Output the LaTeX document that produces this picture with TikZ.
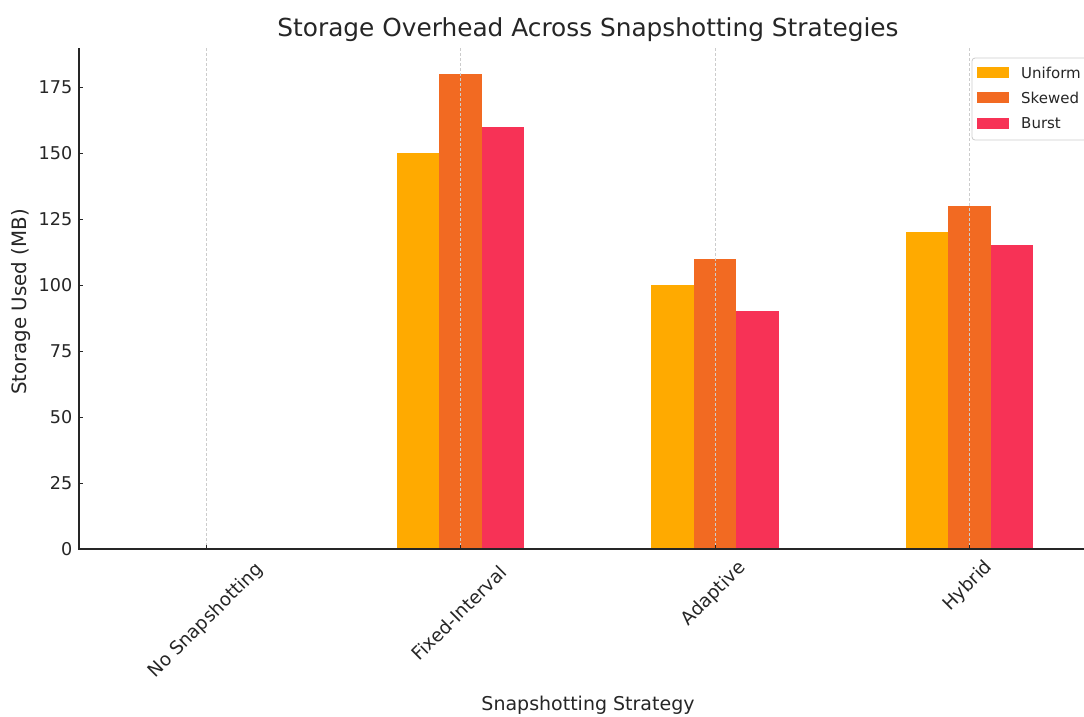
\documentclass[tikz,border=0pt]{standalone}
\usepackage{fontspec}
\setmainfont{DejaVu Sans}
\definecolor{cuni}{RGB}{255,170,0}
\definecolor{cske}{RGB}{242,106,34}
\definecolor{cbur}{RGB}{247,50,86}
\definecolor{txt}{RGB}{38,38,38}
\tikzset{
  gridline/.style={draw=black!20, dashed, dash pattern=on 3pt off 2pt, line width=0.8pt},
  axisline/.style={draw=txt, line width=1.1pt},
  ticklbl/.style={text=txt, font=\fontsize{17.6}{20}\selectfont, inner sep=0pt},
  xlbl/.style={text=txt, font=\fontsize{18.4}{21}\selectfont, inner sep=0pt, rotate=45},
  axlbl/.style={text=txt, font=\fontsize{19}{22}\selectfont, inner sep=0pt},
  leglbl/.style={text=txt, font=\fontsize{15}{18}\selectfont, inner sep=0pt, anchor=west},
  uni/.style={fill=cuni},
  ske/.style={fill=cske},
  bur/.style={fill=cbur},
}
\begin{document}
\begin{tikzpicture}[x=1pt,y=-1pt]
\clip (0,0) rectangle (1084,716);
\fill[white] (0,0) rectangle (1084,716);
% bars
\foreach \i/\u/\s/\b in {1/150/180/160, 2/100/110/90, 3/120/130/115} {
  \pgfmathsetmacro\cx{206+254.5*\i}
  \fill[uni] ({\cx-63.6},549) rectangle ({\cx-21.2},{549-\u*2.64});
  \fill[ske] ({\cx-21.2},549) rectangle ({\cx+21.2},{549-\s*2.64});
  \fill[bur] ({\cx+21.2},549) rectangle ({\cx+63.6},{549-\b*2.64});
}
% grid
\foreach \c in {206,460.5,715,969.5} {
  \draw[gridline] (\c,48) -- (\c,549);
  \draw[axisline, line width=0.9pt] (\c,549) -- (\c,545);
}
% axes
\draw[axisline] (79,48) -- (79,549) -- (1090,549);
% y ticks
\foreach \v in {0,25,...,175} {
  \pgfmathsetmacro\yy{549-\v*2.64}
  \draw[axisline, line width=0.9pt] (79,\yy) -- (83,\yy);
  \node[ticklbl, anchor=east] (yt\v) at (72.5,\yy) {\v};
}
% x tick labels
\node[xlbl] (xt1) at (206,621) {No Snapshotting};
\node[xlbl] (xt2) at (459,613) {Fixed-Interval};
\node[xlbl] (xt3) at (714,594) {Adaptive};
\node[xlbl] (xt4) at (968,586) {Hybrid};
% labels
\node[text=txt, font=\fontsize{24.8}{28}\selectfont, inner sep=0pt] (title) at (588,30) {Storage Overhead Across Snapshotting Strategies};
\node[axlbl] (xlabel) at (588,705) {Snapshotting Strategy};
\node[axlbl, rotate=90, font=\fontsize{19.8}{22}\selectfont] (ylabel) at (21,302) {Storage Used (MB)};
% legend
\draw[draw=black!20, fill=white, rounded corners=3pt, line width=0.8pt] (972,58) rectangle (1100,140);
\fill[uni] (977,67) rectangle (1009,78);
\fill[ske] (977,92) rectangle (1009,103);
\fill[bur] (977,118) rectangle (1009,129);
\node[leglbl] (lu) at (1021,72.5) {Uniform};
\node[leglbl] (ls) at (1021,97.5) {Skewed};
\node[leglbl] (lb) at (1021,123.5) {Burst};
\end{tikzpicture}
\end{document}
